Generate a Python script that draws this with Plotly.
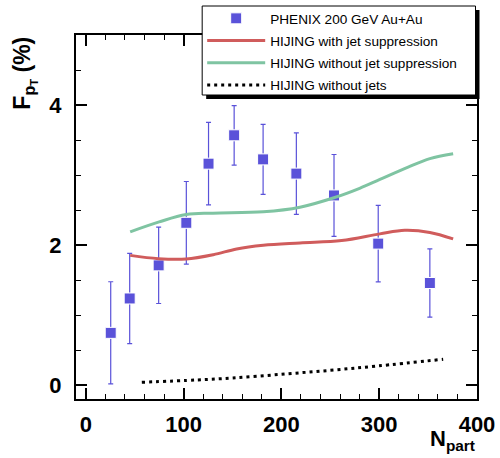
import plotly.graph_objects as go

# PHENIX data
npart = [25.5, 44.9, 74.5, 102.8, 125.5, 151.7, 181.3, 215.3, 253.8, 299.0, 351.8]
fpt = [0.745, 1.236, 1.709, 2.317, 3.162, 3.567, 3.223, 3.02, 2.708, 2.02, 1.457]
fpt_err = [0.73, 0.645, 0.545, 0.59, 0.59, 0.425, 0.50, 0.582, 0.585, 0.546, 0.487]

# HIJING with jet suppression
red_x = [45.4, 74.3, 102.6, 130.4, 154.3, 181.5, 219.0, 261.6, 300.7, 326.2, 351.8, 375.6]
red_y = [1.852, 1.805, 1.80, 1.862, 1.944, 1.996, 2.03, 2.063, 2.159, 2.21, 2.18, 2.087]

# HIJING without jet suppression
green_x = [45.4, 75.0, 102.6, 130.0, 181.5, 219.0, 253.7, 280.0, 300.7, 329.6, 351.8, 375.6]
green_y = [2.188, 2.33, 2.436, 2.455, 2.474, 2.54, 2.675, 2.81, 2.937, 3.113, 3.234, 3.305]

# HIJING without jets
black_x = [57.3, 113.4, 150.0, 200.1, 250.0, 298.7, 365.4]
black_y = [0.039, 0.072, 0.10, 0.153, 0.21, 0.272, 0.368]

x_ticks = [0, 100, 200, 300, 400]
y_ticks = [0, 2, 4]

BLUE = "#5a52d9"
RED = "#d05c5c"
GREEN = "#7fc4a2"

fig = go.Figure()
fig.add_trace(go.Scatter(
    x=npart, y=fpt, mode="markers", name="PHENIX 200 GeV Au+Au", legendgroup="a",
    marker=dict(symbol="square", size=11, color=BLUE, line=dict(color="white", width=1)),
    error_y=dict(type="data", array=fpt_err, color=BLUE, thickness=1.2, width=2.5),
))
fig.add_trace(go.Scatter(
    x=red_x, y=red_y, mode="lines", name="HIJING with jet suppression", legendgroup="b",
    line=dict(color=RED, width=3, shape="spline"),
))
fig.add_trace(go.Scatter(
    x=green_x, y=green_y, mode="lines", name="HIJING without jet suppression", legendgroup="c",
    line=dict(color=GREEN, width=3, shape="spline"),
))
fig.add_trace(go.Scatter(
    x=black_x, y=black_y, mode="lines", name="HIJING without jets", legendgroup="d",
    line=dict(color="black", width=3, dash="3px,4px", shape="spline"),
))

W, H = 500, 458
L, R, T, B = 75.5, 22.5, 35, 59
pw, ph = W - L - R, H - T - B

def px(xp):
    return (xp - L) / pw

def py(yp):
    return (H - B - yp) / ph

tickfont = dict(family="Liberation Sans", size=22, color="black", weight="bold")

fig.update_layout(
    width=W, height=H,
    margin=dict(l=L, r=R, t=T, b=B, autoexpand=False),
    plot_bgcolor="white", paper_bgcolor="white",
    showlegend=True,
    legend=dict(
        x=px(202), y=py(3), xanchor="left", yanchor="top",
        bgcolor="rgba(0,0,0,0)", borderwidth=0,
        font=dict(family="Liberation Sans", size=13.6, color="black"),
        itemwidth=58, tracegroupgap=1.5, traceorder="grouped",
    ),
    xaxis=dict(
        range=[-10, 400], tickvals=x_ticks, ticktext=[str(v) for v in x_ticks],
        ticks="inside", ticklen=11, tickwidth=1.5, tickcolor="black",
        showline=True, linecolor="black", linewidth=2, mirror="ticks",
        showgrid=False, zeroline=False, tickfont=tickfont, ticklabelstandoff=5,
        minor=dict(dtick=20, tick0=0, ticks="inside", ticklen=5, tickwidth=1.2, tickcolor="black", showgrid=False),
    ),
    yaxis=dict(
        range=[-0.2, 5.0], tickvals=y_ticks, ticktext=[str(v) for v in y_ticks],
        ticks="inside", ticklen=11, tickwidth=1.5, tickcolor="black",
        showline=True, linecolor="black", linewidth=2, mirror="ticks",
        showgrid=False, zeroline=False, tickfont=tickfont, ticklabelstandoff=8,
        minor=dict(dtick=0.5, tick0=0, ticks="inside", ticklen=5, tickwidth=1.2, tickcolor="black", showgrid=False),
    ),
    shapes=[
        # legend shadow
        dict(type="rect", xref="paper", yref="paper",
             x0=px(206), x1=px(480), y0=py(99), y1=py(10),
             fillcolor="black", line=dict(width=0), layer="above"),
        # legend box
        dict(type="rect", xref="paper", yref="paper",
             x0=px(202), x1=px(476), y0=py(95), y1=py(6),
             fillcolor="white", line=dict(color="black", width=1), layer="above"),
    ],
    annotations=[
        dict(text="<b>N<sub>part</sub></b>", xref="paper", yref="paper",
             x=px(477), y=py(424), xanchor="right", yanchor="top", showarrow=False,
             font=dict(family="Liberation Sans", size=22, color="black")),
        dict(text="<b>F<sub>p<sub>T</sub></sub> (%)</b>", xref="paper", yref="paper",
             x=px(6), y=py(112), xanchor="left", yanchor="bottom", textangle=-90, showarrow=False,
             font=dict(family="Liberation Sans", size=23, color="black")),
    ],
)

fig.write_html(
    "out.html",
    config={"displayModeBar": False},
    post_script="document.body.style.margin='0';document.body.style.padding='0';document.body.style.overflow='hidden';",
)
